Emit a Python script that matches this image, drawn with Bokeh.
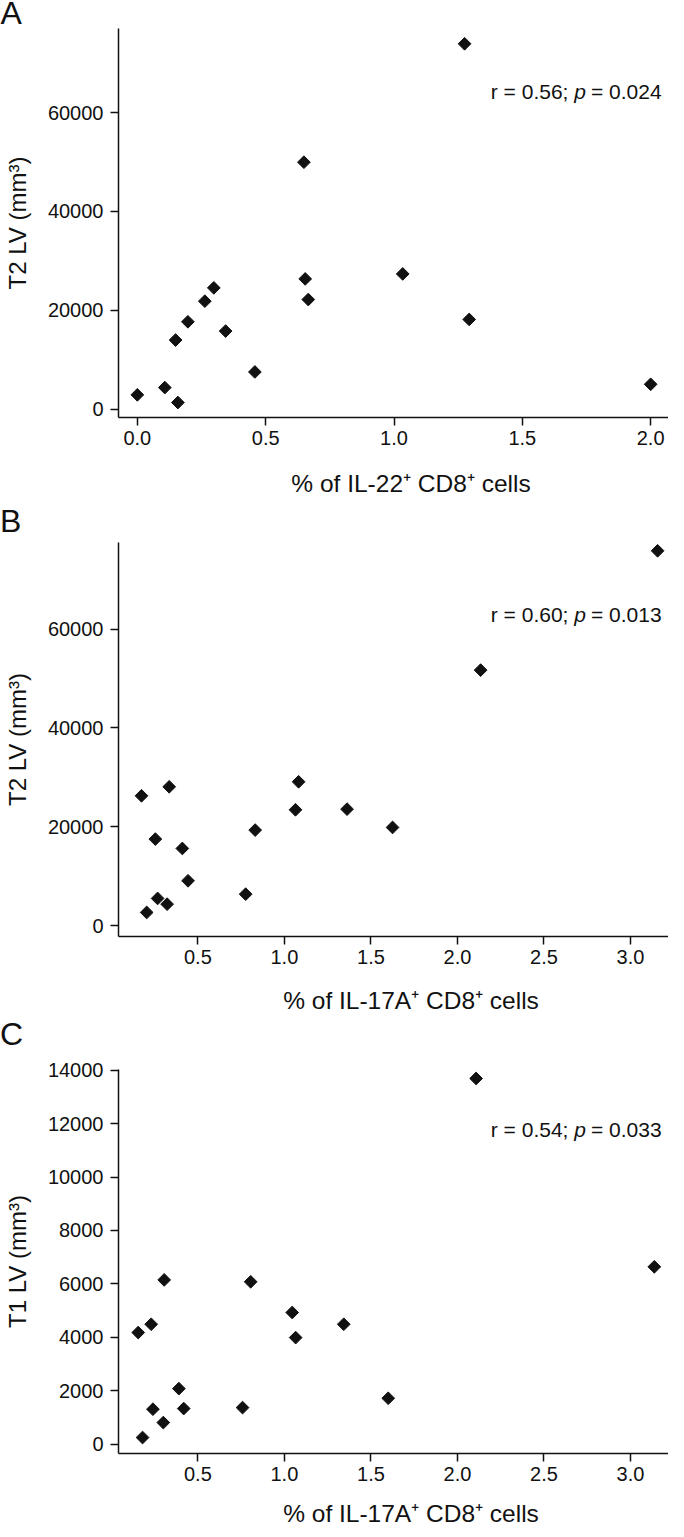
from bokeh.plotting import figure
from bokeh.layouts import column
from bokeh.models import Label, FixedTicker, PrintfTickFormatter, Range1d, Div
from bokeh.embed import file_html
from bokeh.resources import INLINE

# ---------------- data ----------------
a_x = [0.0, 0.107, 0.158, 0.149, 0.197, 0.263, 0.298, 0.344, 0.458, 0.649, 0.654, 0.666, 1.034, 1.275, 1.293, 2.0]
a_y = [2900, 4370, 1350, 13980, 17680, 21850, 24540, 15800, 7530, 49950, 26350, 22180, 27360, 73900, 18150, 5040]

b_x = [0.174, 0.204, 0.254, 0.267, 0.322, 0.334, 0.410, 0.443, 0.776, 0.831, 1.064, 1.082, 1.362, 1.625, 2.134, 3.157]
b_y = [26290, 2700, 17530, 5530, 4380, 28110, 15640, 9100, 6400, 19350, 23460, 29120, 23590, 19890, 51700, 75830]

c_x = [0.155, 0.18, 0.23, 0.24, 0.30, 0.305, 0.39, 0.418, 0.758, 0.805, 1.045, 1.065, 1.343, 1.60, 2.108, 3.138]
c_y = [4180, 250, 4490, 1310, 810, 6150, 2080, 1335, 1370, 6080, 4930, 3990, 4490, 1720, 13690, 6640]

panel_letters = ["A", "B", "C"]
y_titles = ["T2 LV (mm\u00b3)", "T2 LV (mm\u00b3)", "T1 LV (mm\u00b3)"]
x_titles = ["% of IL-22\u207a CD8\u207a cells", "% of IL-17A\u207a CD8\u207a cells", "% of IL-17A\u207a CD8\u207a cells"]
stats_r = ["r = 0.56;", "r = 0.60;", "r = 0.54;"]
stats_p = ["= 0.024", "= 0.013", "= 0.033"]
a_xticks = [0.0, 0.5, 1.0, 1.5, 2.0]
bc_xticks = [0.5, 1.0, 1.5, 2.0, 2.5, 3.0]
ab_yticks = [0, 20000, 40000, 60000]
c_yticks = [0, 2000, 4000, 6000, 8000, 10000, 12000, 14000]

FONT = "Liberation Sans"
INK = "#111111"
W = 668
FL, FR = 121, 676  # frame left/right page x

specs = [
    dict(top=36, h=430, ft=36, fb=425, xr=(-0.0734, 2.0695), yr=(-1678, 76987), sb=99),
    dict(top=550, h=435, ft=550, fb=944, xr=(0.041, 3.22), yr=(-2164, 77508), sb=622),
    dict(top=1065, h=437, ft=1077, fb=1461, xr=(0.041, 3.22), yr=(-348, 14026), sb=1137),
]
datasets = [(a_x, a_y, a_xticks, ab_yticks), (b_x, b_y, bc_xticks, ab_yticks), (c_x, c_y, bc_xticks, c_yticks)]


def make_panel(i):
    s = specs[i]
    xs, ys, xt, yt = datasets[i]
    x0, x1 = s["xr"]
    y0, y1 = s["yr"]

    def dx(px):
        return x0 + (px - FL) / (FR - FL) * (x1 - x0)

    def dy(py):
        return y0 + (s["fb"] - py) / (s["fb"] - s["ft"]) * (y1 - y0)

    p = figure(width=W, height=s["h"], output_backend="svg", toolbar_location=None, title=None,
               x_range=Range1d(x0, x1), y_range=Range1d(y0, y1),
               min_border_left=FL - 8, min_border_right=0,
               min_border_top=s["ft"] - s["top"],
               min_border_bottom=s["top"] + s["h"] - s["fb"])
    p.frame_align = False
    p.outline_line_color = None
    p.grid.visible = False

    p.scatter(xs, ys, marker="square", size=9, angle=45, angle_units="deg",
              fill_color=INK, line_color=INK)

    for ax in (p.xaxis[0], p.yaxis[0]):
        ax.axis_line_width = 1.5
        ax.axis_line_color = INK
        ax.major_tick_line_width = 1.5
        ax.major_tick_line_color = INK
        ax.major_tick_out = 8
        ax.major_tick_in = 0
        ax.minor_tick_line_color = None
        ax.major_label_text_font = FONT
        ax.major_label_text_font_size = "20px"
        ax.major_label_text_color = INK

    p.xaxis.ticker = FixedTicker(ticks=xt)
    p.xaxis.formatter = PrintfTickFormatter(format="%.1f")
    p.xaxis.major_label_standoff = 5

    p.yaxis.ticker = FixedTicker(ticks=yt)
    p.yaxis.formatter = PrintfTickFormatter(format="%d")
    p.yaxis.major_label_standoff = 7
    p.yaxis.axis_label = y_titles[i]
    p.yaxis.axis_label_text_font = FONT
    p.yaxis.axis_label_text_font_size = "24px"
    p.yaxis.axis_label_text_font_style = "normal"
    p.yaxis.axis_label_text_color = INK
    p.yaxis.axis_label_standoff = 14

    # statistics text: "r = 0.xx; p = 0.0xx" with italic p
    fs = 21
    right = 669
    w3 = 3.364 * fs
    sp = 0.278 * fs
    pw = 0.556 * fs
    common = dict(text_font=FONT, text_font_size=f"{fs}px", text_color=INK, text_baseline="alphabetic")
    p.add_layout(Label(x=dx(right), y=dy(s["sb"]), text=stats_p[i], text_align="right", **common))
    p.add_layout(Label(x=dx(right - w3 - sp - pw), y=dy(s["sb"]), text="p", text_font_style="italic",
                       text_align="left", **common))
    p.add_layout(Label(x=dx(right - w3 - 2 * sp - pw), y=dy(s["sb"]), text=stats_r[i],
                       text_align="right", **common))
    return p


def make_strip(page_top, h, items):
    """items: list of (text, page_x, page_baseline, font_px, align) -> absolutely placed HTML text"""
    spans = []
    for txt, px, pb, fpx, align in items:
        top = pb - 0.8465 * fpx - page_top
        left = px - 8
        shift = "transform:translateX(-50%);" if align == "center" else ""
        spans.append(
            f'<span style="position:absolute;left:{left:.1f}px;top:{top:.1f}px;{shift}'
            f'font-family:\'{FONT}\',Arial,sans-serif;font-size:{fpx}px;line-height:1;'
            f'color:{INK};white-space:nowrap;">{txt}</span>')
    html = (f'<div style="position:relative;width:{W}px;height:{h}px;overflow:visible;">'
            + "".join(spans) + "</div>")
    return Div(text=html, width=W, height=h, margin=0, styles={"overflow": "visible"})


TX = 419  # page x centre of x-axis titles
strip0 = make_strip(8, 28, [(panel_letters[0], 8.5, 32, 32, "left")])
strip1 = make_strip(466, 84, [(x_titles[0], TX, 501, 24.5, "center"), (panel_letters[1], 8, 540, 32, "left")])
strip2 = make_strip(985, 80, [(x_titles[1], TX, 1018, 24.5, "center"), (panel_letters[2], 8, 1053, 32, "left")])
strip3 = make_strip(1502, 25, [(x_titles[2], TX, 1531, 24.5, "center")])

figs = [make_panel(i) for i in range(3)]
layout = column(strip0, figs[0], strip1, figs[1], strip2, figs[2], strip3, spacing=0)

with open("out.html", "w") as f:
    f.write(file_html(layout, INLINE))
